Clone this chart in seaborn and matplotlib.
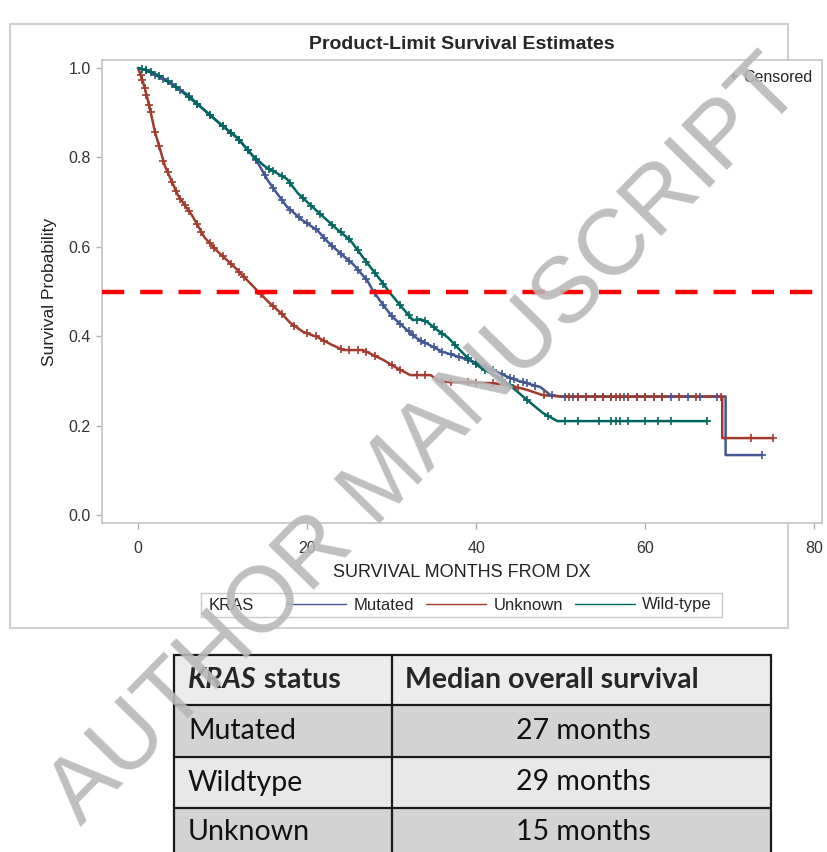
import numpy as np
import matplotlib
matplotlib.use("Agg")
import matplotlib.pyplot as plt
from matplotlib.lines import Line2D
from matplotlib.patches import Rectangle
import seaborn as sns

# Kaplan-Meier curves (months, survival probability)
mut_t = [0, 1, 2, 3.5, 4.7, 5.9, 7.6, 9.9, 11.8, 14.0, 15.3, 16.5, 17.6, 19.4, 21.2, 22.5, 23.9, 25.5, 27.1, 27.7,
         28.6, 30.0, 31.8, 33.0, 34.9, 36.0, 38.1, 40.0, 42.0, 43.7, 45.0, 47.6, 48.8, 50, 55, 60, 65, 69.5, 69.5, 73.8]
mut_s = [1.0, 0.995, 0.985, 0.97, 0.955, 0.94, 0.91, 0.872, 0.843, 0.794, 0.75, 0.718, 0.69, 0.66, 0.637, 0.61,
         0.586, 0.56, 0.525, 0.505, 0.48, 0.445, 0.414, 0.395, 0.376, 0.365, 0.353, 0.34, 0.324, 0.309, 0.3, 0.286,
         0.268, 0.265, 0.265, 0.265, 0.265, 0.265, 0.134, 0.134]

unk_t = [0, 0.4, 0.8, 1.4, 2.0, 3.2, 4.7, 6.4, 7.9, 9.5, 11.5, 13.8, 15.4, 17, 18, 19.5, 21.2, 23, 24.3, 26.6,
         29, 30.5, 32.2, 34.6, 35.7, 38, 41.7, 44, 46, 47.9, 50, 55, 60, 65, 69.1, 69.1, 75.1]
unk_s = [1.0, 0.98, 0.955, 0.91, 0.857, 0.78, 0.716, 0.67, 0.62, 0.588, 0.553, 0.508, 0.477, 0.45, 0.43, 0.41,
         0.398, 0.38, 0.369, 0.369, 0.347, 0.33, 0.313, 0.313, 0.298, 0.297, 0.295, 0.29, 0.28, 0.268, 0.265,
         0.265, 0.265, 0.265, 0.265, 0.172, 0.172]

wt_t = [0, 1, 2.4, 4.7, 7.6, 9.9, 11.8, 13.5, 15, 16.4, 17.6, 18.9, 20.3, 22.1, 23.5, 25.1, 27.1, 28.5, 29.8,
        31.2, 32.5, 33.4, 34.2, 35.3, 36.6, 38.9, 40.5, 42.5, 44, 45.6, 46.8, 47.9, 49.6, 55, 60, 67.3]
wt_s = [1.0, 0.995, 0.984, 0.955, 0.91, 0.872, 0.843, 0.805, 0.78, 0.765, 0.752, 0.72, 0.695, 0.664, 0.64,
        0.615, 0.564, 0.53, 0.497, 0.465, 0.436, 0.438, 0.432, 0.415, 0.398, 0.353, 0.33, 0.309, 0.29, 0.264,
        0.245, 0.228, 0.21, 0.21, 0.21, 0.21]

# censoring times
mut_c = [1, 2, 3, 4, 5, 6, 7, 8.5, 10, 11, 12, 13, 14, 15, 16, 17, 18, 19, 20, 21, 22, 23, 24, 25, 26, 27, 28,
         29, 30, 31, 32, 32.5, 33.5, 34, 35, 36, 37, 38, 39, 40, 41, 42, 43, 44, 44.5, 45.5, 46, 47, 49, 50.5,
         51.5, 52, 53, 54, 55, 56, 57.5, 58, 59, 60, 61, 62, 63, 65, 66.5, 68.5, 73.8]
unk_c = [0.3, 0.5, 0.8, 1, 1.3, 1.5, 2, 2.5, 3, 3.5, 4, 4.5, 5, 5.5, 6, 7, 7.5, 8.5, 9, 10, 11, 12, 12.5, 14.5,
         16, 17, 18.5, 20, 21, 22, 24, 25, 26, 27, 28, 30, 31, 33, 34, 36, 37, 39, 40, 42, 45, 48, 51, 52, 53, 54,
         55, 56, 56.5, 57, 58, 59, 60, 61, 62, 64, 66, 69, 72.5, 75.1]
wt_c = [0.5, 1, 1.5, 2.5, 3.5, 4.5, 6, 7, 8.5, 10, 11, 12, 13, 14, 15.5, 16, 17, 18, 19.5, 20.5, 21.5, 23,
        24, 25, 26, 27, 28, 29, 31, 32, 33, 34, 35, 36, 37.5, 39, 40, 41, 43, 44, 46, 48.5, 50.5, 52, 54.5, 56,
        56.5, 57, 58, 60, 61.5, 63, 67.3]

groups = ["Mutated", "Unknown", "Wild-type"]
colors = ["#445694", "#A23A2E", "#01665E"]

# summary table
tab_header = ["KRAS", " status", "Median overall survival"]
tab_status = ["Mutated", "Wildtype", "Unknown"]
tab_median = ["27 months", "29 months", "15 months"]

sns.set_theme(style="white")
plt.rcParams["font.family"] = ["Liberation Sans", "DejaVu Sans"]

fig = plt.figure(figsize=(8.28, 8.52), dpi=100)
W, H = 828, 852

# background layer: outer frame and table
bg = fig.add_axes([0, 0, 1, 1], zorder=-1)
bg.set_xlim(0, W)
bg.set_ylim(H, 0)
bg.axis("off")
bg.add_patch(Rectangle((10, 24), 778, 604, fill=False, ec="#d0d0d0", lw=1.5))

ax = fig.add_axes([102 / W, 1 - 523 / H, 720 / W, 463 / H])
series = [(mut_t, mut_s, mut_c), (unk_t, unk_s, unk_c), (wt_t, wt_s, wt_c)]
for (t, s, c), col in zip(series, colors):
    sns.lineplot(x=t, y=s, sort=False, estimator=None, color=col, lw=1.8, ax=ax)
    cy = np.interp(c, t, s)
    sns.scatterplot(x=c, y=cy, marker="+", s=28, color=col, linewidth=1.2, ax=ax, zorder=3)

ax.axhline(0.5, xmin=0, xmax=1.01, color="#ff0000", lw=3.2, ls=(0, (5, 3.6)), clip_on=False, zorder=4)

ax.set_xlim(-4.26, 80.9)
ax.set_ylim(-0.018, 1.018)
ax.set_xticks([0, 20, 40, 60, 80])
ax.set_yticks([0, 0.2, 0.4, 0.6, 0.8, 1.0])
ax.set_yticklabels(["0.0", "0.2", "0.4", "0.6", "0.8", "1.0"])
for sp in ax.spines.values():
    sp.set_color("#c4c4c4")
    sp.set_linewidth(1.2)
ax.tick_params(axis="both", direction="out", length=4, width=1, color="#b0b0b0",
               labelsize=11.5, labelcolor="#333333", pad=4, bottom=True, left=True)
ax.tick_params(axis="x", pad=9)
ax.set_xlabel("SURVIVAL MONTHS FROM DX", fontsize=13, color="#222222", labelpad=6)
ax.set_ylabel("Survival Probability", fontsize=12.5, color="#222222", labelpad=8)
ax.set_title("Product-Limit Survival Estimates", fontsize=14, fontweight="bold", pad=8)

cens = Line2D([], [], ls="none", marker="+", color="#222222", ms=5, mew=1.2)
ax.legend([cens], ["Censored"], loc="upper right", frameon=False, fontsize=11.5,
          handletextpad=0.1, borderaxespad=0.2, handlelength=1.0)

# group legend under the plot
handles = [Line2D([], [], color=c, lw=1) for c in colors]
fig.legend(handles, groups, ncol=3, loc="center", bbox_to_anchor=(499 / W, 1 - 605 / H),
           frameon=False, fontsize=12, handlelength=3.6, columnspacing=0.7, handletextpad=0.45)
fig.text(209 / W, 1 - 605 / H, "KRAS", fontsize=12, va="center", ha="left")
bg.add_patch(Rectangle((201, 593), 521, 24, fill=False, ec="#c8c8c8", lw=1))

# table
tfont = ["Lato", "DejaVu Sans"]
x0, xm, x1 = 174, 392, 771
rows_y = [655, 705, 757, 808, 860]
fills = ["#ececec", "#d3d3d3", "#e8e8e8", "#d3d3d3"]
for i, f in enumerate(fills):
    bg.add_patch(Rectangle((x0, rows_y[i]), x1 - x0, rows_y[i + 1] - rows_y[i], fc=f, ec="none"))
for y in rows_y:
    bg.plot([x0, x1], [y, y], color="#1a1a1a", lw=1.6)
for x in [x0, xm, x1]:
    bg.plot([x, x], [rows_y[0], rows_y[-1]], color="#1a1a1a", lw=1.6)

fs = 20.5
yc = (rows_y[0] + rows_y[1]) / 2
t1 = bg.text(188, yc, tab_header[0], fontsize=fs, fontweight="bold", style="italic",
             family=tfont, va="center", ha="left")
fig.canvas.draw()
bb = t1.get_window_extent(renderer=fig.canvas.get_renderer())
bx = bg.transData.inverted().transform((bb.x1, 0))[0]
bg.text(bx, yc, tab_header[1], fontsize=fs, fontweight="bold", family=tfont, va="center", ha="left")
bg.text(405, yc, tab_header[2], fontsize=fs, fontweight="bold", family=tfont, va="center", ha="left")
for i, (st, md) in enumerate(zip(tab_status, tab_median)):
    yc = (rows_y[i + 1] + min(rows_y[i + 2], 856)) / 2
    bg.text(188, yc, st, fontsize=fs, family=tfont, va="center", ha="left", color="#111111")
    bg.text(583, yc, md, fontsize=fs, family=tfont, va="center", ha="center", color="#111111")

# watermark
fig.text(426 / W, 1 - 442 / H, "AUTHOR MANUSCRIPT", rotation=45.5, fontsize=67, color="#b8b8b8",
         alpha=0.9, ha="center", va="center", rotation_mode="anchor", zorder=10)

fig.savefig("out.png", dpi=100)
